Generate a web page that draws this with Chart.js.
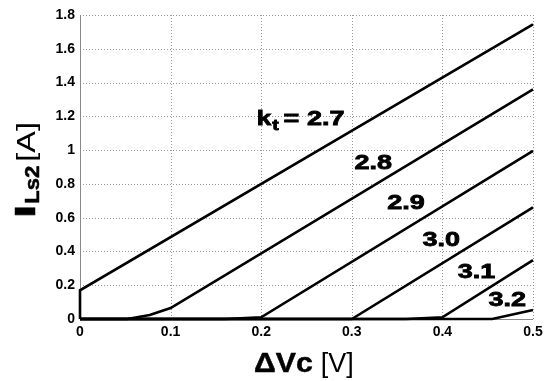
<!DOCTYPE html>
<html>
<head>
<meta charset="utf-8">
<script src="https://cdn.jsdelivr.net/npm/chart.js@4/dist/chart.umd.min.js"></script>
<style>
  html, body { margin: 0; padding: 0; background: #fff; }
  #wrap { width: 550px; height: 381px; }
</style>
</head>
<body>
<div id="wrap"><canvas id="plot"></canvas></div>
<script>
// curves: dVc [V] -> I_Ls2 [A], one per kt
const kt = ['2.7', '2.8', '2.9', '3.0', '3.1', '3.2']
const x27 = [0, 0, 0.5]
const y27 = [0, 0.17, 1.744]
const x28 = [0, 0.052, 0.077, 0.1, 0.5]
const y28 = [0, 0, 0.024, 0.065, 1.359]
const x29 = [0, 0.16, 0.2, 0.5]
const y29 = [0, 0, 0.01, 0.996]
const x30 = [0, 0.3, 0.5]
const y30 = [0, 0, 0.661]
const x31 = [0, 0.36, 0.4, 0.5]
const y31 = [0, 0, 0.01, 0.349]
const x32 = [0, 0.455, 0.5]
const y32 = [0, 0, 0.053]

const xTicks = [0, 0.1, 0.2, 0.3, 0.4, 0.5]
const yTicks = [0, 0.2, 0.4, 0.6, 0.8, 1, 1.2, 1.4, 1.6, 1.8]

// where each kt label sits (data coords of its left baseline)
const labelX = [0.195, 0.303, 0.339, 0.378, 0.417, 0.451]
const labelY = [1.15, 0.886, 0.65, 0.431, 0.242, 0.077]

function pts(xs, ys) {
  return xs.map(function (v, i) { return { x: v, y: ys[i] } })
}

const curves = [[x27, y27], [x28, y28], [x29, y29], [x30, y30], [x31, y31], [x32, y32]]

// draw text stretched horizontally, returns drawn width
function txt(ctx, s, x, y, font, sx, heavy) {
  ctx.save()
  ctx.font = font
  ctx.translate(x, y)
  ctx.scale(sx, 1)
  ctx.fillText(s, 0, 0)
  if (heavy) {
    ctx.lineWidth = heavy
    ctx.strokeStyle = '#000'
    ctx.strokeText(s, 0, 0)
  }
  const w = ctx.measureText(s).width * sx
  ctx.restore()
  return w
}

// dotted grid + solid left/bottom axis, under the curves
const gridPlugin = {
  id: 'gridPlugin',
  beforeDatasetsDraw(chart) {
    const ctx = chart.ctx
    const xs = chart.scales.x
    const ys = chart.scales.y
    const area = chart.chartArea
    ctx.save()
    ctx.strokeStyle = '#9a9a9a'
    ctx.lineWidth = 1
    ctx.setLineDash([1, 2])
    xTicks.forEach(function (v) {
      const px = Math.round(xs.getPixelForValue(v)) + 0.5
      ctx.beginPath()
      ctx.moveTo(px, area.top)
      ctx.lineTo(px, area.bottom)
      ctx.stroke()
    })
    yTicks.forEach(function (v) {
      const py = Math.round(ys.getPixelForValue(v)) + 0.5
      ctx.beginPath()
      ctx.moveTo(area.left, py)
      ctx.lineTo(area.right, py)
      ctx.stroke()
    })
    ctx.setLineDash([])
    ctx.strokeStyle = '#888'
    ctx.beginPath()
    ctx.moveTo(area.left + 0.5, area.top)
    ctx.lineTo(area.left + 0.5, area.bottom + 0.5)
    ctx.lineTo(area.right, area.bottom + 0.5)
    ctx.stroke()
    ctx.restore()
  }
}

const labelPlugin = {
  id: 'labelPlugin',
  afterDraw(chart) {
    const ctx = chart.ctx
    const xs = chart.scales.x
    const ys = chart.scales.y
    ctx.save()
    ctx.fillStyle = '#000'
    ctx.textBaseline = 'alphabetic'
    ctx.textAlign = 'left'

    // kt labels
    kt.forEach(function (k, i) {
      let px = xs.getPixelForValue(labelX[i])
      const py = ys.getPixelForValue(labelY[i])
      if (i === 0) {
        px += txt(ctx, 'k', px, py, 'bold 20px Arial', 1.3, 0.8)
        px += txt(ctx, 't', px + 1, py + 5, 'bold 15px Arial', 1.3, 0.8) + 6
        txt(ctx, '= ' + k, px, py, 'bold 20px Arial', 1.35, 0.8)
      } else {
        txt(ctx, k, px, py, 'bold 20px Arial', 1.35, 0.8)
      }
    })

    // x axis title
    let tx = 254
    tx += txt(ctx, '\u0394Vc', tx, 372, 'bold 28px Arial', 1.08, 0.5) + 8
    txt(ctx, '[V]', tx, 372, '27px Arial', 1.0)

    // y axis title, rotated
    ctx.translate(35, 218)
    ctx.rotate(-Math.PI / 2)
    let ty = 0
    ty += txt(ctx, 'I', ty, 0, 'bold 30px Arial', 1.6, 0.5)
    ty += txt(ctx, 'Ls2', ty + 1, 4, 'bold 21px Arial', 1.05, 0.5) + 5
    txt(ctx, '[A]', ty, 0, '25px Arial', 1.3)
    ctx.restore()
  }
}

const tickFont = { family: 'Arial', size: 14, weight: 'bold' }

new Chart(document.getElementById('plot'), {
  type: 'scatter',
  data: {
    datasets: curves.map(function (c, i) {
      return {
        label: kt[i],
        data: pts(c[0], c[1]),
        showLine: true,
        borderColor: '#000',
        borderWidth: 2.6,
        pointRadius: 0,
        tension: 0,
        clip: false
      }
    })
  },
  options: {
    responsive: true,
    maintainAspectRatio: false,
    animation: false,
    layout: { padding: { top: 15, right: 17, left: 0, bottom: 0 } },
    plugins: { legend: { display: false }, tooltip: { enabled: false } },
    scales: {
      x: {
        type: 'linear',
        min: 0,
        max: 0.5,
        afterFit(scale) { scale.height = 62 },
        afterBuildTicks(scale) { scale.ticks = xTicks.map(function (v) { return { value: v } }) },
        ticks: {
          color: '#000',
          font: tickFont,
          padding: 5,
          maxRotation: 0,
          callback: function (v) { return String(v) }
        },
        grid: { display: false, drawTicks: false },
        border: { display: false }
      },
      y: {
        type: 'linear',
        min: 0,
        max: 1.8,
        afterFit(scale) { scale.width = 80 },
        afterBuildTicks(scale) { scale.ticks = yTicks.map(function (v) { return { value: v } }) },
        ticks: {
          color: '#000',
          font: tickFont,
          padding: 5,
          callback: function (v) { return String(v) }
        },
        grid: { display: false, drawTicks: false },
        border: { display: false }
      }
    }
  },
  plugins: [gridPlugin, labelPlugin]
})
</script>
</body>
</html>
